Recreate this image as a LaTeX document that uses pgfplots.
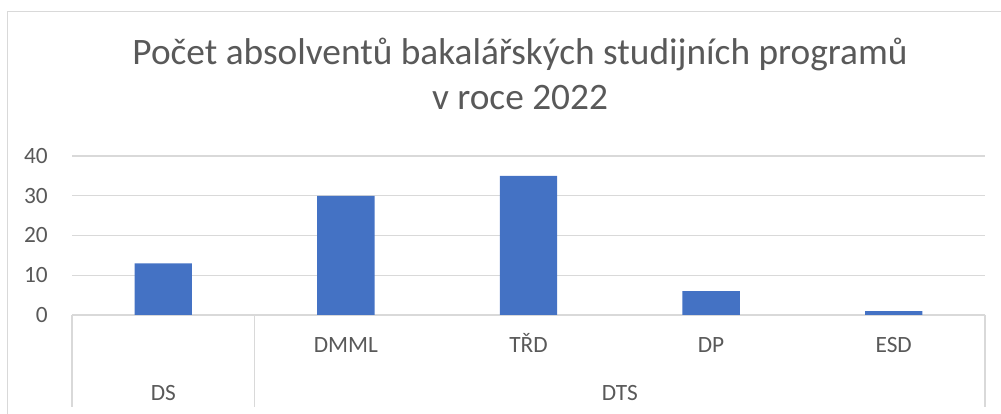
\documentclass[border=0pt]{standalone}
\usepackage{pgfplots}
\pgfplotsset{compat=1.18}
\usepackage{fontspec}
\setmainfont{Carlito}
\definecolor{txt}{HTML}{595959}
\definecolor{gridc}{HTML}{D9D9D9}
\definecolor{barc}{HTML}{4472C4}
\begin{document}
\begin{tikzpicture}
\begin{axis}[
  at={(54pt,74.25pt)}, anchor=south west,
  scale only axis, width=684.75pt, height=119.25pt,
  xmin=-0.5, xmax=4.5, ymin=0, ymax=40,
  ytick={0,10,20,30,40},
  xtick={0,1,2,3,4},
  xticklabels={,DMML,TŘD,DP,ESD},
  extra x ticks={0,2.5},
  extra x tick labels={DS,DTS},
  extra x tick style={xticklabel style={yshift=-36pt}},
  xticklabel style={anchor=base, yshift=-28.5pt, inner sep=0pt},
  yticklabel style={anchor=east, inner sep=0pt, xshift=-18pt},
  ticklabel style={font=\fontsize{17.5}{21}\selectfont, text=txt},
  /pgf/number format/assume math mode=true,
  major tick length=0pt,
  tick style={draw=none},
  axis line style={draw=none},
  ymajorgrids,
  major grid style={gridc, line width=0.9pt},
  clip=false,
  ybar, bar width=43pt,
]
\addplot[fill=barc, draw=none] coordinates {(0,13) (1,30) (2,35) (3,6) (4,1)};
\draw[gridc, line width=0.9pt] (axis cs:-0.5,0) -- ([yshift=-69pt]axis cs:-0.5,0);
\draw[gridc, line width=0.9pt] (axis cs:0.5,0) -- ([yshift=-69pt]axis cs:0.5,0);
\draw[gridc, line width=0.9pt] (axis cs:4.5,0) -- ([yshift=-69pt]axis cs:4.5,0);
\end{axis}
\node[anchor=base, text=txt, font=\fontsize{28}{34}\selectfont] at (390pt,261.75pt) {Počet absolventů bakalářských studijních programů};
\node[anchor=base, text=txt, font=\fontsize{28}{34}\selectfont] at (390pt,228pt) {v roce 2022};
\draw[gridc, line width=0.75pt] (5.25pt,-5pt) -- (5.25pt,301.5pt) -- (760pt,301.5pt);
\pgfresetboundingbox
\path[use as bounding box] (0,0) rectangle (750.75pt,310.5pt);
\end{tikzpicture}
\end{document}
